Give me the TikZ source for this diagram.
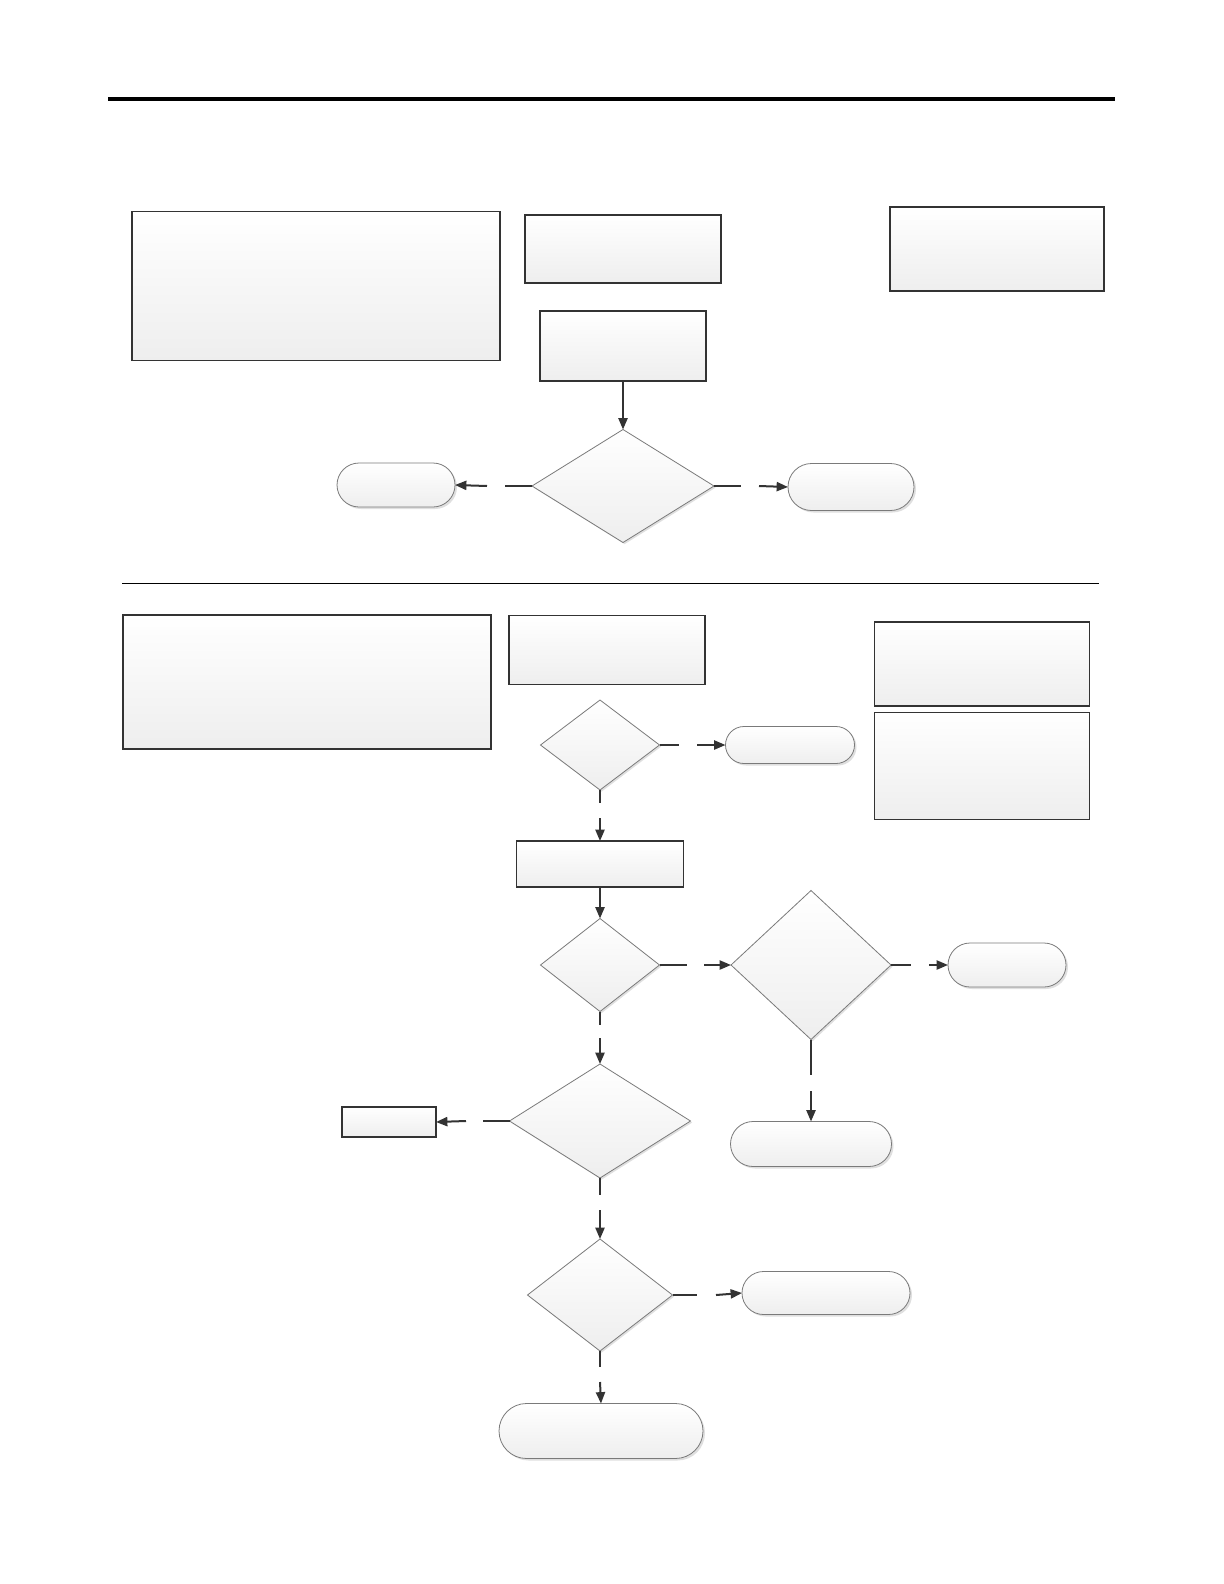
\documentclass[tikz,border=0pt]{standalone}
\usetikzlibrary{arrows.meta,shapes.geometric,shapes.misc,shadows}
\definecolor{flowInk}{HTML}{333333}
\definecolor{flowEdge}{HTML}{7A7A7A}
\definecolor{flowShade}{HTML}{EEEEEE}
\tikzset{
  flow chart/.style={
    line width=0.6pt,
    >={Triangle[length=0.2cm,width=0.16cm]},
    every node/.style={inner sep=0pt, outer sep=0pt}
  },
  flow size/.style 2 args={minimum width=#1*0.5pt, minimum height=#2*0.5pt},
  flow box/.style={rectangle, draw=flowInk, line width=0.6pt,
    top color=white, bottom color=flowShade},
  flow decision/.style={diamond, draw=flowEdge, line width=0.4pt,
    top color=white, bottom color=flowShade,
    drop shadow={shadow xshift=0.8pt, shadow yshift=-0.8pt, opacity=0.25}},
  flow end/.style={rounded rectangle, draw=flowEdge, line width=0.4pt,
    top color=white, bottom color=flowShade,
    drop shadow={shadow xshift=1pt, shadow yshift=-1pt, opacity=0.25}},
  flow link/.style={draw=flowInk, line width=1pt},
  flow rule/.style={draw=black}
}

\begin{document}
\begin{tikzpicture}[flow chart,x=0.5pt,y=-0.5pt]
    \useasboundingbox[fill=white] (0,0) rectangle (1224,1584);
    \draw[flow rule,line width=1.6pt] (108,99) -- (1115,99);
    \draw[flow rule,line width=0.5pt] (122,583) -- (1099,583);

    \node[flow box,flow size={368}{149}] (infoA) at (316,286) {};
    \node[flow box,flow size={196}{68}] (inputA) at (623,249) {};
    \node[flow box,flow size={214}{84}] (noteA) at (997,249) {};
    \node[flow box,flow size={166}{70}] (stepA) at (623,346) {};
    \node[flow decision,flow size={182}{113}] (checkA) at (623,486) {};
    \node[flow end,flow size={118}{44}] (endAL) at (396,485) {};
    \node[flow end,flow size={126}{47}] (endAR) at (851,487) {};

    \node[flow box,flow size={368}{134}] (infoB) at (307,682) {};
    \node[flow box,flow size={196}{69}] (inputB) at (607,650) {};
    \node[flow box,flow size={215}{84}] (noteB) at (982,664) {};
    \node[flow box,flow size={215}{107}] (noteC) at (982,766) {};
    \node[flow decision,flow size={119}{90}] (checkB) at (600,745) {};
    \node[flow end,flow size={129}{37}] (endB) at (790,745) {};
    \node[flow box,flow size={167}{46}] (stepB) at (600,864) {};
    \node[flow decision,flow size={119}{93}] (checkC) at (600,965) {};
    \node[flow decision,flow size={160}{149}] (checkD) at (811,965) {};
    \node[flow end,flow size={118}{44}] (endC) at (1007,965) {};
    \node[flow end,flow size={161}{45}] (endD) at (811,1144) {};
    \node[flow decision,flow size={181}{114}] (checkE) at (600,1121) {};
    \node[flow box,flow size={94}{30}] (stepC) at (389,1122) {};
    \node[flow decision,flow size={145}{112}] (checkF) at (600,1295) {};
    \node[flow end,flow size={168}{43}] (endE) at (826,1293) {};
    \node[flow end,flow size={204}{55}] (endF) at (601,1431) {};

    \coordinate (gA1) at (505,486);  \coordinate (gA2) at (487,486);
    \coordinate (gA3) at (741,486);  \coordinate (gA4) at (759,486);
    \coordinate (gB1) at (679,745);  \coordinate (gB2) at (697,745);
    \coordinate (gB3) at (600,803);  \coordinate (gB4) at (600,818);
    \coordinate (gC1) at (687,965);  \coordinate (gC2) at (704,965);
    \coordinate (gC3) at (600,1025); \coordinate (gC4) at (600,1038);
    \coordinate (gD1) at (911,965);  \coordinate (gD2) at (929,965);
    \coordinate (gD3) at (811,1075); \coordinate (gD4) at (811,1091);
    \coordinate (gE1) at (483,1121); \coordinate (gE2) at (466,1121);
    \coordinate (gE3) at (600,1195); \coordinate (gE4) at (600,1210);
    \coordinate (gF1) at (697,1295); \coordinate (gF2) at (716,1295);
    \coordinate (gF3) at (600,1367); \coordinate (gF4) at (600,1382);

    \draw[flow link,->] (stepA) -- (checkA);
    \draw[flow link] (checkA.west) -- (gA1);
    \draw[flow link,->] (gA2) -- (endAL.east);
    \draw[flow link] (checkA.east) -- (gA3);
    \draw[flow link,->] (gA4) -- (endAR.west);

    \draw[flow link] (checkB.east) -- (gB1);
    \draw[flow link,->] (gB2) -- (endB.west);
    \draw[flow link] (checkB.south) -- (gB3);
    \draw[flow link,->] (gB4) -- (stepB.north);
    \draw[flow link,->] (stepB) -- (checkC);
    \draw[flow link] (checkC.east) -- (gC1);
    \draw[flow link,->] (gC2) -- (checkD.west);
    \draw[flow link] (checkC.south) -- (gC3);
    \draw[flow link,->] (gC4) -- (checkE.north);
    \draw[flow link] (checkD.east) -- (gD1);
    \draw[flow link,->] (gD2) -- (endC.west);
    \draw[flow link] (checkD.south) -- (gD3);
    \draw[flow link,->] (gD4) -- (endD.north);
    \draw[flow link] (checkE.west) -- (gE1);
    \draw[flow link,->] (gE2) -- (stepC.east);
    \draw[flow link] (checkE.south) -- (gE3);
    \draw[flow link,->] (gE4) -- (checkF.north);
    \draw[flow link] (checkF.east) -- (gF1);
    \draw[flow link,->] (gF2) -- (endE.west);
    \draw[flow link] (checkF.south) -- (gF3);
    \draw[flow link,->] (gF4) -- (endF.north);
\end{tikzpicture}
\end{document}
